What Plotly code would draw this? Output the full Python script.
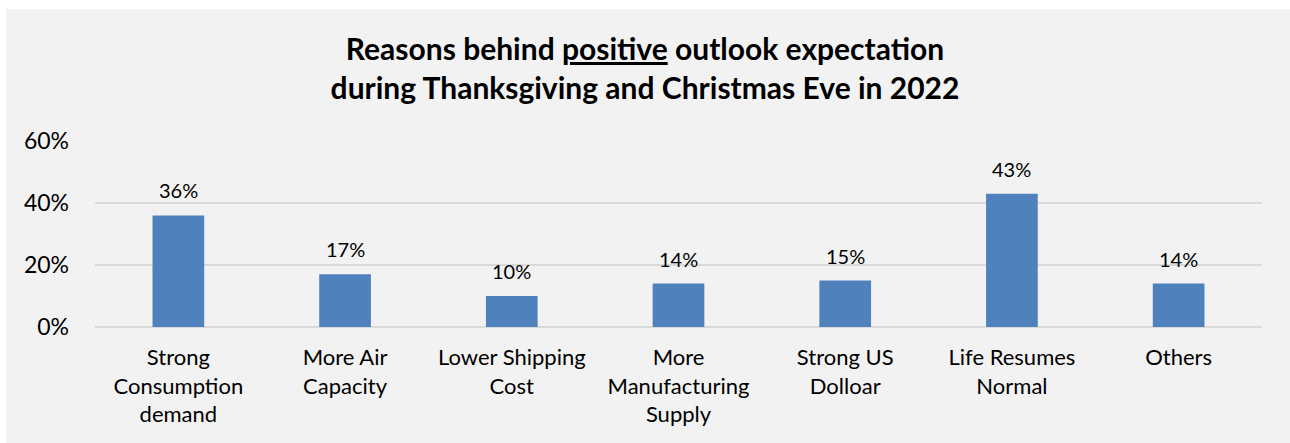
import plotly.graph_objects as go

categories = ["Strong<br>Consumption<br>demand", "More Air<br>Capacity", "Lower Shipping<br>Cost",
              "More<br>Manufacturing<br>Supply", "Strong US<br>Dolloar", "Life Resumes<br>Normal", "Others"]
values = [0.36, 0.17, 0.10, 0.14, 0.15, 0.43, 0.14]
tick_vals = [0, 0.2, 0.4, 0.6]
tick_text = ["0%", "20%", "40%", "60%"]

FONT = "Lato, Open Sans, sans-serif"
W, H = 1290, 443
L, R, T, B = 95, 28, 141, 116

fig = go.Figure(go.Bar(
    x=categories, y=values,
    marker=dict(color="#4f81bd", line=dict(width=0)),
    hoverinfo="x+y",
))

for c, v in zip(categories, values):
    fig.add_annotation(x=c, y=v, text=f"{round(v*100)}%", showarrow=False,
                       yanchor="bottom", yshift=11,
                       font=dict(family=FONT, size=20, color="#000000"))

pw, ph = W - L - R, H - T - B
fig.add_shape(type="rect", xref="paper", yref="paper", layer="below",
              x0=(6 - L) / pw, x1=(W - L) / pw + 0.01,
              y0=-(B + 5) / ph, y1=(H - 9 - B) / ph,
              fillcolor="#f2f2f2", line=dict(width=0))

fig.update_layout(
    width=W, height=H,
    margin=dict(l=L, r=R, t=T, b=B),
    paper_bgcolor="#ffffff", plot_bgcolor="rgba(0,0,0,0)",
    bargap=0.69, showlegend=False,
    title=dict(
        text="<b>Reasons behind <span style='text-decoration:underline'>positive</span> outlook expectation<br>during Thanksgiving and Christmas Eve in 2022</b>",
        x=0.5, xref="container", xanchor="center", y=1 - 60 / H, yanchor="top",
        font=dict(family=FONT, size=30, color="#000000"),
    ),
    font=dict(family=FONT, color="#000000"),
)
fig.update_xaxes(showgrid=False, showline=False, ticks="", ticklabelstandoff=15,
                 tickfont=dict(family=FONT, size=22, color="#000000"))
fig.update_yaxes(range=[0, 0.6], tickvals=tick_vals, ticktext=tick_text,
                 showgrid=True, gridcolor="#d9d9d9", gridwidth=2, zeroline=True,
                 zerolinecolor="#d9d9d9", zerolinewidth=2, showline=False,
                 ticks="", ticklabelstandoff=25,
                 tickfont=dict(family=FONT, size=23, color="#000000"))

fig.write_html("out.html", config={"displayModeBar": False},
               post_script="document.body.style.margin='0';")
